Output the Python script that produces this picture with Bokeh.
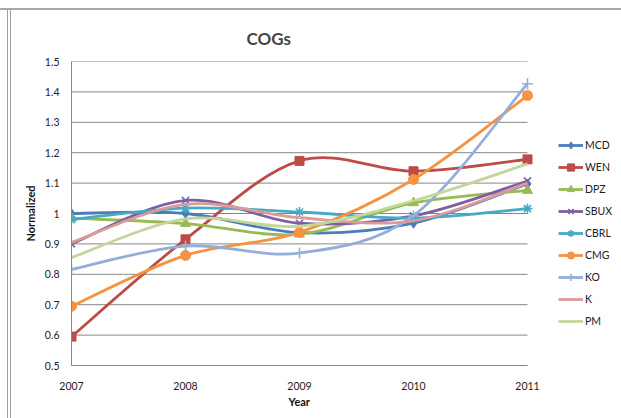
from bokeh.plotting import figure
from bokeh.models import Legend, LegendItem, FixedTicker, CustomJSTickFormatter, ColumnDataSource, Title
from bokeh.embed import file_html
from bokeh.resources import INLINE

years = [2007, 2008, 2009, 2010, 2011]
y_ticks = [0.5, 0.6, 0.7, 0.8, 0.9, 1.0, 1.1, 1.2, 1.3, 1.4, 1.5]

MCD = [1.0, 1.0, 0.937, 0.968, 1.097]
WEN = [0.595, 0.915, 1.173, 1.139, 1.178]
DPZ = [0.985, 0.967, 0.932, 1.035, 1.076]
SBUX = [0.900, 1.043, 0.968, 0.992, 1.107]
CBRL = [0.980, 1.018, 1.005, 0.985, 1.016]
CMG = [0.695, 0.862, 0.938, 1.112, 1.388]
KO = [0.816, 0.893, 0.870, 0.993, 1.427]
K = [0.905, 1.030, 0.986, 0.976, 1.100]
PM = [0.855, 0.982, 0.958, 1.042, 1.163]

series = [
    ("MCD", MCD, "#4A7EBB", "diamond", 10),
    ("WEN", WEN, "#BE4B48", "square", 9),
    ("DPZ", DPZ, "#98B954", "triangle", 10),
    ("SBUX", SBUX, "#7D60A0", "x", 10),
    ("CBRL", CBRL, "#46AAC5", "asterisk", 10),
    ("CMG", CMG, "#F69240", "circle", 10),
    ("KO", KO, "#93AEDA", "cross", 11),
    ("K", K, "#DD9A99", None, 0),
    ("PM", PM, "#C3D69B", None, 0),
]

FONT = "Lato"

# plot frame: x from 2007 (left edge) out to the right edge of the page; the
# span beyond 2011 holds the legend, as in the original chart area
FRAME_PX = 621 - 71
DATA_PX = 456
x_end = years[0] + (years[-1] - years[0]) * FRAME_PX / DATA_PX

p = figure(width=621, height=418, output_backend="svg", toolbar_location=None,
           x_range=(years[0], x_end), y_range=(y_ticks[0], y_ticks[-1]),
           min_border_left=71, min_border_right=0, min_border_top=61, min_border_bottom=53,
           title="COGs")
p.outline_line_color = None
p.background_fill_color = "white"
p.border_fill_color = None
p.styles = {
    "background": (
        "linear-gradient(#a8a8a8,#a8a8a8) 0px 8px / 100% 2px no-repeat, "
        "linear-gradient(#a0a0a0,#a0a0a0) 7px 8px / 1px 100% no-repeat, "
        "linear-gradient(#a0a0a0,#a0a0a0) 10px 10px / 1px 100% no-repeat, white"
    )
}

p.title.text_font = FONT
p.title.text_font_style = "bold"
p.title.text_font_size = "17px"
p.title.align = "left"
p.title.offset = 175
p.title.standoff = 26

p.xaxis.ticker = FixedTicker(ticks=years)
p.xaxis.bounds = (years[0], years[-1])
p.yaxis.ticker = FixedTicker(ticks=y_ticks)
p.yaxis.formatter = CustomJSTickFormatter(code="return String(Number(tick.toFixed(1)));")
for ax in (p.xaxis[0], p.yaxis[0]):
    ax.major_tick_line_color = None
    ax.minor_tick_line_color = None
    ax.axis_line_color = "#868686"
    ax.axis_line_width = 1
    ax.major_label_text_font = FONT
    ax.major_label_text_font_size = "10.5px"
    ax.major_label_text_color = "#222222"
p.yaxis.axis_label = "Normalized"
p.yaxis.axis_label_text_font = FONT
p.yaxis.axis_label_text_font_style = "bold"
p.yaxis.axis_label_text_font_size = "11px"
p.yaxis.axis_label_text_color = "#111111"
p.xaxis.major_label_standoff = 10
p.yaxis.major_label_standoff = 6
p.yaxis.axis_label_standoff = 5

xlabel = Title(text="Year", align="left", offset=217, standoff=0,
               text_font=FONT, text_font_style="bold", text_font_size="11px", text_color="#111111")
p.add_layout(xlabel, "below")

p.xgrid.grid_line_color = None
p.ygrid.grid_line_color = None
# horizontal gridlines over the data span only
p.segment(x0=years[0], x1=years[-1], y0=y_ticks, y1=y_ticks, line_color="#868686", line_width=1)


def bezier_source(xs, ys):
    n = len(xs)
    d = dict(x0=[], y0=[], x1=[], y1=[], cx0=[], cy0=[], cx1=[], cy1=[])
    for i in range(n - 1):
        xm, ym = (xs[i - 1], ys[i - 1]) if i > 0 else (xs[i], ys[i])
        xp, yp = (xs[i + 2], ys[i + 2]) if i + 2 < n else (xs[i + 1], ys[i + 1])
        d["x0"].append(xs[i]); d["y0"].append(ys[i])
        d["x1"].append(xs[i + 1]); d["y1"].append(ys[i + 1])
        d["cx0"].append(xs[i] + (xs[i + 1] - xm) / 6.0)
        d["cy0"].append(ys[i] + (ys[i + 1] - ym) / 6.0)
        d["cx1"].append(xs[i + 1] - (xp - xs[i]) / 6.0)
        d["cy1"].append(ys[i + 1] - (yp - ys[i]) / 6.0)
    return ColumnDataSource(d)


items = []
for name, vals, color, marker, size in series:
    rs = []
    src = bezier_source(years, vals)
    b = p.bezier(x0="x0", y0="y0", x1="x1", y1="y1", cx0="cx0", cy0="cy0", cx1="cx1", cy1="cy1",
                 source=src, line_color=color, line_width=2.8)
    rs.append(b)
    if marker:
        s = p.scatter(x=years, y=vals, marker=marker, size=size, fill_color=color,
                      line_color=color, line_width=1.6 if marker in ("x", "asterisk", "cross") else 1)
        rs.append(s)
    items.append(LegendItem(label=name, renderers=rs))

legend = Legend(items=items, location=(487, 35), padding=0, margin=0, spacing=4,
                glyph_width=25, glyph_height=18, label_height=18, label_standoff=2,
                border_line_color=None, background_fill_alpha=0,
                label_text_font=FONT, label_text_font_size="10.5px", label_text_color="#222222")
p.add_layout(legend, "center")

open("out.html", "w").write(file_html(p, INLINE))
